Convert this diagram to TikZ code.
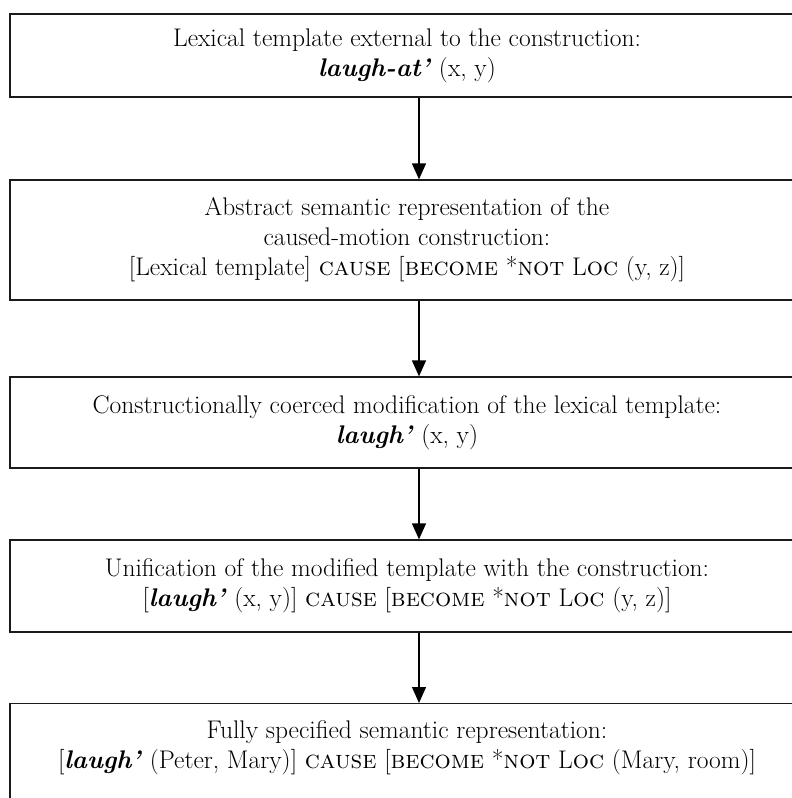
\documentclass[tikz,border=0pt]{standalone}
\usepackage{tikz}
\usetikzlibrary{arrows.meta}
\definecolor{ink}{HTML}{1A1A1A}
\newcommand{\lx}[1]{\textbf{\textit{#1}}}

\begin{document}
\begin{tikzpicture}[x=1pt, y=-1pt,
    stage/.style={draw=ink, line width=1.3pt, minimum width=794pt, inner sep=0pt,
      align=center, font=\fontsize{25.5}{30}\selectfont},
    flow/.style={-{Triangle[width=14pt,length=16pt]}, line width=1.3pt}]
  \useasboundingbox (0,0) rectangle (792,798);
  \clip (0,0) rectangle (792,798);
  \node[stage, minimum height=83pt] (tmpl) at (407,55.5)
    {Lexical template external to the construction:\\ \lx{laugh-at'} (x, y)};
  \node[stage, minimum height=120pt] (absrep) at (407,240)
    {Abstract semantic representation of the\\ caused-motion construction:\\
     {[}Lexical template] \textsc{cause} [\textsc{become} *\textsc{not} L\textsc{oc} (y, z)]};
  \node[stage, minimum height=91pt] (coerce) at (407,422.5)
    {Constructionally coerced modification of the lexical template:\\ \lx{laugh'} (x, y)};
  \node[stage, minimum height=92pt] (unify) at (407,586)
    {Unification of the modified template with the construction:\\
     {[}\lx{laugh'} (x, y)] \textsc{cause} [\textsc{become} *\textsc{not} L\textsc{oc} (y, z)]};
  \node[stage, inner ysep=17pt, anchor=north] (full) at (407,703)
    {Fully specified semantic representation:\\
     {[}\lx{laugh'} (Peter, Mary)] \textsc{cause} [\textsc{become} *\textsc{not} L\textsc{oc} (Mary, room)]\rule[-60pt]{0pt}{60pt}};
  \draw[flow] ([xshift=12pt]tmpl.south) -- ([xshift=12pt]absrep.north);
  \draw[flow] ([xshift=12pt]absrep.south) -- ([xshift=12pt]coerce.north);
  \draw[flow] ([xshift=12pt]coerce.south) -- ([xshift=12pt]unify.north);
  \draw[flow] ([xshift=12pt]unify.south) -- ([xshift=12pt]full.north);
\end{tikzpicture}
\end{document}
